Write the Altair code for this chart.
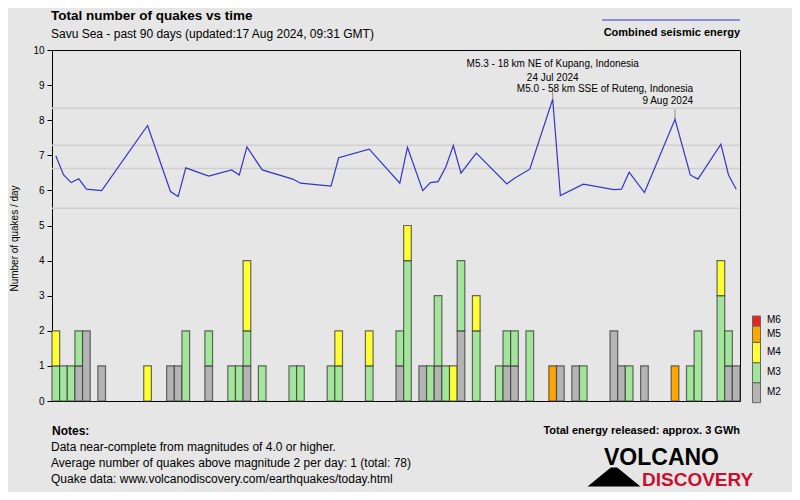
import altair as alt
import pandas as pd

# ---------------- data ----------------
bar_dates = ["2024-05-20", "2024-05-21", "2024-05-22", "2024-05-23", "2024-05-24", "2024-05-26",
             "2024-06-01", "2024-06-04", "2024-06-05", "2024-06-06", "2024-06-09", "2024-06-12",
             "2024-06-13", "2024-06-14", "2024-06-16", "2024-06-20", "2024-06-21", "2024-06-25",
             "2024-06-26", "2024-06-30", "2024-07-04", "2024-07-05", "2024-07-07", "2024-07-08",
             "2024-07-09", "2024-07-10", "2024-07-11", "2024-07-12", "2024-07-14", "2024-07-17",
             "2024-07-18", "2024-07-19", "2024-07-21", "2024-07-24", "2024-07-25", "2024-07-27",
             "2024-07-28", "2024-08-01", "2024-08-02", "2024-08-03", "2024-08-05", "2024-08-09",
             "2024-08-11", "2024-08-12", "2024-08-15", "2024-08-16", "2024-08-17"]
m2_counts = [0, 0, 0, 1, 2, 1, 0, 1, 1, 0, 1, 0, 0, 1, 0, 0, 0, 0, 0, 0, 1, 0, 1, 0,
             1, 0, 0, 2, 0, 0, 1, 1, 0, 0, 1, 1, 0, 2, 1, 0, 1, 0, 0, 0, 0, 1, 1]
m3_counts = [1, 1, 1, 1, 0, 0, 0, 0, 0, 2, 1, 1, 1, 1, 1, 1, 1, 1, 1, 1, 1, 4, 0, 1,
             2, 1, 0, 2, 2, 1, 1, 1, 2, 0, 0, 0, 1, 0, 0, 1, 0, 0, 1, 2, 3, 1, 0]
m4_counts = [1, 0, 0, 0, 0, 0, 1, 0, 0, 0, 0, 0, 0, 2, 0, 0, 0, 0, 1, 1, 0, 1, 0, 0,
             0, 0, 1, 0, 1, 0, 0, 0, 0, 0, 0, 0, 0, 0, 0, 0, 0, 0, 0, 0, 1, 0, 0]
m5_counts = [0, 0, 0, 0, 0, 0, 0, 0, 0, 0, 0, 0, 0, 0, 0, 0, 0, 0, 0, 0, 0, 0, 0, 0,
             0, 0, 0, 0, 0, 0, 0, 0, 0, 1, 0, 0, 0, 0, 0, 0, 0, 1, 0, 0, 0, 0, 0]
m6_counts = [0] * len(bar_dates)

energy_dates = ["2024-05-20", "2024-05-21", "2024-05-22", "2024-05-23", "2024-05-24", "2024-05-26",
                "2024-06-01", "2024-06-04", "2024-06-05", "2024-06-06", "2024-06-09", "2024-06-12",
                "2024-06-13", "2024-06-14", "2024-06-16", "2024-06-20", "2024-06-21", "2024-06-25",
                "2024-06-26", "2024-06-30", "2024-07-04", "2024-07-05", "2024-07-07", "2024-07-08",
                "2024-07-09", "2024-07-10", "2024-07-11", "2024-07-12", "2024-07-14", "2024-07-18",
                "2024-07-19", "2024-07-21", "2024-07-24", "2024-07-25", "2024-07-28", "2024-08-01",
                "2024-08-02", "2024-08-03", "2024-08-05", "2024-08-09", "2024-08-11", "2024-08-12",
                "2024-08-15", "2024-08-16", "2024-08-17"]
energy_mwh = [40, 4.3, 1.1, 2.2, 0.25, 0.17,
              390, 0.13, 0.021, 10.7, 3.4, 8.3,
              4.1, 87, 8.3, 2.1, 0.98, 0.52,
              33, 72, 0.98, 85, 0.17, 1.1,
              1.34, 11.6, 97, 5.3, 51, 0.85,
              2.4, 9.1, 1550, 0.032, 0.80, 0.22,
              0.25, 6.1, 0.093, 560, 4.1, 2.1,
              108, 4.1, 0.25]

ann_dates = ["2024-07-24", "2024-08-09"]
ann_mwh = [1550, 560]
ann_titles = ["M5.3 - 18 km NE of Kupang, Indonesia", "M5.0 - 58 km SSE of Ruteng, Indonesia"]
ann_when = ["24 Jul 2024", "9 Aug 2024"]

mags = ["M2", "M3", "M4", "M5", "M6"]
mag_colors = ["#b4b4b4", "#a3e59b", "#ffff33", "#ffa500", "#ee2020"]

x_tick_dates = ["2024-05-20", "2024-06-01", "2024-06-15", "2024-07-01", "2024-07-15", "2024-08-01", "2024-08-18"]
x_tick_labels = ["20 May", "1 Jun", "15 Jun", "1 Jul", "15 Jul", "1 Aug", "18 Aug 2024"]

count_ticks = list(range(0, 11))
energy_ticks = [0, 10, 100, 200, 500, 1000, 2000, 5000, 10000]
energy_tick_labels = ["0", "10 MWh", "100 MWh", "200 MWh", "500 MWh", "1 GWh", "2 GWh", "5 GWh", "10 GWh"]
energy_grid = [0, 10, 100, 1000]

notes_lines = ["Data near-complete from magnitudes of 4.0 or higher.",
               "Average number of quakes above magnitude 2 per day: 1 (total: 78)",
               "Quake data: www.volcanodiscovery.com/earthquakes/today.html"]

# ---------------- style ----------------
FONT = "Liberation Sans"
BG = "#e6e6e6"
BLUE = "#3535c8"
W, H = 688, 351

rows = []
for i, d in enumerate(bar_dates):
    for mag, arr in zip(mags, [m2_counts, m3_counts, m4_counts, m5_counts, m6_counts]):
        if arr[i]:
            rows.append({"date": d, "mag": mag, "order": mags.index(mag), "count": arr[i]})
bars_df = pd.DataFrame(rows)
energy_df = pd.DataFrame({"date": energy_dates, "mwh": energy_mwh})
ann_df = pd.DataFrame({"date": ann_dates, "mwh": ann_mwh, "title": ann_titles, "when": ann_when})
grid_df = pd.DataFrame({"mwh": energy_grid})

x_scale = alt.Scale(type="utc", nice=False,
                    domain=[alt.DateTime(year=2024, month=5, date=20, utc=True),
                            alt.DateTime(year=2024, month=8, date=18, utc=True)])

lab = "''"
for d, l in reversed(list(zip(x_tick_dates, x_tick_labels))):
    lab = f"utcFormat(datum.value, '%Y-%m-%d') == '{d}' ? '{l}' : ({lab})"

x_axis = alt.Axis(title=None, grid=False, tickCount={"interval": "day", "step": 1},
                  labelExpr=lab, labelOverlap=False, labelFlush=False, labelBound=False,
                  tickSize=4, labelPadding=2, labelFontSize=10, labelFont=FONT,
                  labelColor="black", tickColor="black", domainColor="black")

left_axis = alt.Axis(values=count_ticks, title="Number of quakes / day", grid=False,
                     tickSize=5, labelPadding=3, labelFontSize=10, labelFont=FONT, labelColor="black",
                     tickColor="black", domainColor="black", titleFontSize=10, titleFont=FONT,
                     titleFontWeight="normal", titleColor="black", titleX=-38, titleY=188,
                     titleBaseline="middle", titleAlign="center")

e_lab = "''"
for v, l in reversed(list(zip(energy_ticks, energy_tick_labels))):
    e_lab = f"datum.value == {v} ? '{l}' : ({e_lab})"

right_axis = alt.Axis(orient="right", values=energy_ticks, labelExpr=e_lab, title=None, grid=False,
                      tickSize=5, labelPadding=7, labelFontSize=10, labelFont=FONT, labelColor="black",
                      tickColor="black", domainColor="black")

e_scale = alt.Scale(type="pow", exponent=0.2, domain=[-26930, 10000], nice=False, zero=False)

bars = alt.Chart(bars_df).transform_stack(
    stack="count", groupby=["date"], as_=["y0", "y1"],
    sort=[alt.SortField("order", order="ascending")]
).transform_calculate(
    end="utcOffset('day', toDate(datum.date), 1)"
).mark_rect(stroke="#3a3a3a", strokeWidth=1.2, strokeOpacity=0.75).encode(
    x=alt.X("date:T", scale=x_scale, axis=x_axis),
    x2="end:T",
    y=alt.Y("y0:Q", scale=alt.Scale(domain=[0, 10], nice=False), axis=left_axis),
    y2="y1:Q",
    color=alt.Color("mag:N", scale=alt.Scale(domain=mags, range=mag_colors), legend=None),
)

mid_expr = "utcOffset('hours', toDate(datum.date), 12)"

grid = alt.Chart(grid_df).mark_rule(color="#cfcfcf", strokeWidth=1.5).encode(
    x=alt.value(0), x2=alt.value(W),
    y=alt.Y("mwh:Q", scale=e_scale, axis=None),
)

line = alt.Chart(energy_df).transform_calculate(mid=mid_expr).mark_line(
    color=BLUE, strokeWidth=1.2
).encode(
    x=alt.X("mid:T", scale=x_scale, axis=None),
    y=alt.Y("mwh:Q", scale=e_scale, axis=right_axis),
)

ann_base = alt.Chart(ann_df).transform_calculate(mid=mid_expr)
ann_rule = ann_base.mark_rule(color="#8c8c8c", strokeWidth=1, y2Offset=-10).encode(
    x=alt.X("mid:T", scale=x_scale, axis=None),
    y=alt.Y("mwh:Q", scale=e_scale, axis=None),
    y2="mwh:Q",
)


def ann_text(idx, field, align, dx, dy):
    return ann_base.transform_filter(f"datum.title == '{ann_titles[idx]}'").mark_text(
        align=align, baseline="middle", dx=dx, dy=dy, fontSize=10, font=FONT, color="black"
    ).encode(
        x=alt.X("mid:T", scale=x_scale, axis=None),
        y=alt.Y("mwh:Q", scale=e_scale, axis=None),
        text=f"{field}:N",
    )


energy_group = alt.layer(
    grid, ann_rule, line,
    ann_text(0, "title", "center", 0, -35), ann_text(0, "when", "center", 0, -21),
    ann_text(1, "title", "right", 18, -30.5), ann_text(1, "when", "right", 18, -18.5),
)


def txt(s, x, y, size=11, bold=False, align="left", color="black", font=FONT):
    return alt.Chart(pd.DataFrame({"t": [s]})).mark_text(
        align=align, baseline="middle", fontSize=size, fontWeight="bold" if bold else "normal",
        font=font, color=color
    ).encode(x=alt.value(x), y=alt.value(y), text="t:N")


texts = [
    txt("Total number of quakes vs time", -1, -34, size=13.5, bold=True),
    txt("Savu Sea - past 90 days (updated:17 Aug 2024, 09:31 GMT)", -1, -16, size=12),
    txt("Combined seismic energy", 688, -17, size=11, bold=True, align="right"),
    txt("Notes:", 0, 381, size=12, bold=True),
    txt("Total energy released: approx. 3 GWh", 688, 381, size=11, bold=True, align="right"),
    txt("VOLCANO", 552, 408, size=23, bold=True),
    txt("DISCOVERY", 590, 429.5, size=19, bold=True, color="#c8102e"),
]
for i, s in enumerate(notes_lines):
    texts.append(txt(s, -1, 397 + 16 * i, size=12))

legend_line = alt.Chart(pd.DataFrame({"a": [0]})).mark_rule(color=BLUE, strokeWidth=1).encode(
    x=alt.value(550), x2=alt.value(688), y=alt.value(-30))

volcano = alt.Chart(pd.DataFrame({"a": [0]})).mark_point(
    shape="M-1,0.36L1,0.36L0.12,-0.36L-0.12,-0.36Z", filled=True, color="black", opacity=1, size=2800
).encode(x=alt.value(562), y=alt.value(427))

leg_px = [(332.7, 352.7), (312.7, 332.7), (292.3, 312.7), (276, 292.3), (266, 276)]
leg_lab_y = [341.7, 321.7, 301.7, 283.7, 270]
legend_parts = []
for mag, col, (y0, y1), ly in zip(mags, mag_colors, leg_px, leg_lab_y):
    legend_parts.append(alt.Chart(pd.DataFrame({"m": [mag]})).mark_rect(
        color=col, stroke="#666666", strokeWidth=1).encode(
        x=alt.value(700.5), x2=alt.value(708.5), y=alt.value(y0), y2=alt.value(y1)))
    legend_parts.append(txt(mag, 715, ly, size=10))

chart = alt.layer(bars, energy_group, legend_line, volcano, *legend_parts, *texts).resolve_scale(
    y="independent"
).properties(
    width=W, height=H,
    padding={"left": 44, "top": 42, "right": 52, "bottom": 91},
    autosize=alt.AutoSizeParams(type="none"),
    background=BG,
).configure_view(stroke="black", strokeWidth=1, fill=BG)

chart.save("out.html", embed_options={"renderer": "svg", "actions": False})
